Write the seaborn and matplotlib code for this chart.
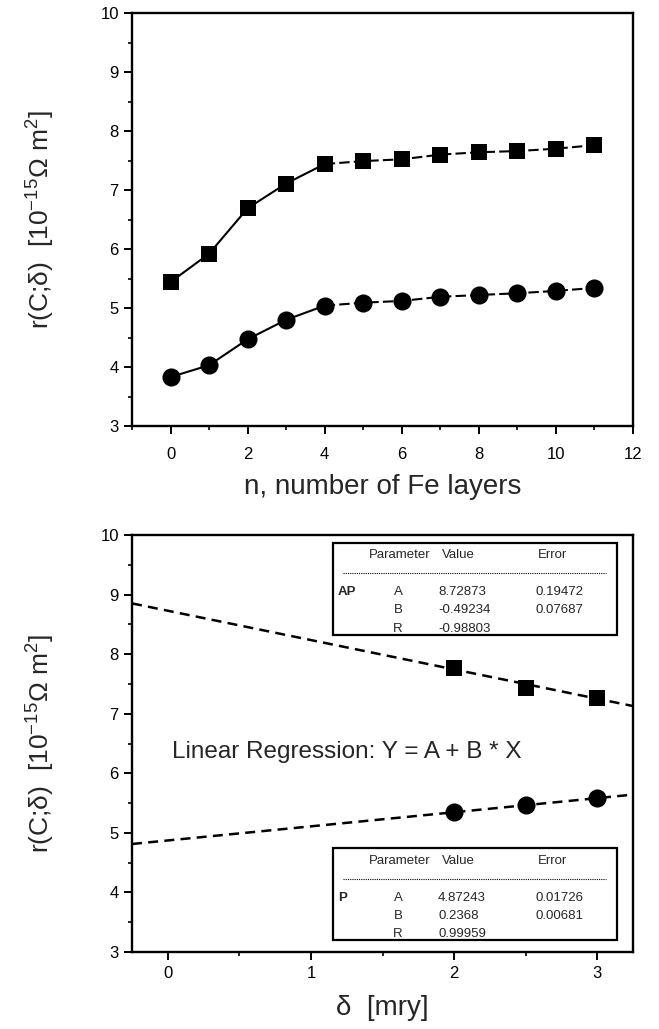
import numpy as np
import pandas as pd
import matplotlib
matplotlib.use("Agg")
import matplotlib.pyplot as plt
from matplotlib.patches import Rectangle
from matplotlib.ticker import MultipleLocator
import seaborn as sns

# ---- data -------------------------------------------------------------
n_layers = [0, 1, 2, 3, 4, 5, 6, 7, 8, 9, 10, 11]
r_ap_layers = [5.44, 5.92, 6.69, 7.11, 7.44, 7.49, 7.52, 7.60, 7.64, 7.66, 7.70, 7.76]
r_p_layers = [3.83, 4.03, 4.47, 4.80, 5.04, 5.09, 5.12, 5.19, 5.22, 5.25, 5.29, 5.34]

delta_mry = [2.0, 2.5, 3.0]
r_ap_delta = [7.76, 7.44, 7.27]
r_p_delta = [5.35, 5.47, 5.58]

fit_params = ["A", "B", "R"]
ap_fit_values = [8.72873, -0.49234, -0.98803]
ap_fit_errors = [0.19472, 0.07687, None]
p_fit_values = [4.87243, 0.2368, 0.99959]
p_fit_errors = [0.01726, 0.00681, None]

ylabel_text = r"r(C;δ)  [10$^{\mathregular{-15}}$Ω m$^{\mathregular{2}}$]"

# ---- style ------------------------------------------------------------
sns.set_style("ticks")
plt.rcParams["font.family"] = ["Liberation Sans", "DejaVu Sans"]
plt.rcParams["mathtext.fontset"] = "custom"
plt.rcParams["mathtext.rm"] = "Liberation Sans"
plt.rcParams["axes.linewidth"] = 1.7
plt.rcParams["axes.edgecolor"] = "black"
plt.rcParams["xtick.color"] = "black"
plt.rcParams["ytick.color"] = "black"

fig = plt.figure(figsize=(6.59, 10.29), dpi=100)
W, H = 659, 1029


def px_axes(left, right, top, bottom):
    return fig.add_axes([left / W, 1 - bottom / H, (right - left) / W, (bottom - top) / H])


ax1 = px_axes(132, 633, 13, 426)
ax2 = px_axes(132, 633, 535, 952)


def style_axes(ax, xpad):
    for s in ax.spines.values():
        s.set_visible(True)
        s.set_linewidth(1.7)
    ax.tick_params(which="major", direction="out", length=6, width=1.4,
                   labelsize=12, top=False, right=False)
    ax.tick_params(which="minor", direction="out", length=3, width=1.2,
                   top=False, right=False)
    ax.tick_params(axis="x", which="major", pad=xpad)
    ax.yaxis.set_major_locator(MultipleLocator(1))
    ax.yaxis.set_minor_locator(MultipleLocator(0.5))
    ax.set_ylim(3, 10)


# ---- top panel: resistance vs number of Fe layers ---------------------
top = pd.DataFrame({"n": n_layers, "ap": r_ap_layers, "p": r_p_layers})
head = top[top["n"] <= 4]
tail = top[top["n"] >= 4]
for col in ["ap", "p"]:
    sns.lineplot(data=head, x="n", y=col, ax=ax1, color="black", lw=1.5, sort=False)
    sns.lineplot(data=tail, x="n", y=col, ax=ax1, color="black", lw=1.5, sort=False,
                 linestyle=(0, (5, 2)))
sns.scatterplot(data=top, x="n", y="ap", ax=ax1, marker="s", s=140,
                color="black", linewidth=0, zorder=5)
sns.scatterplot(data=top, x="n", y="p", ax=ax1, marker="o", s=170,
                color="black", linewidth=0, zorder=5)
style_axes(ax1, xpad=9)
ax1.set_xlim(-1, 12)
ax1.xaxis.set_major_locator(MultipleLocator(2))
ax1.xaxis.set_minor_locator(MultipleLocator(1))
ax1.set_xlabel("n, number of Fe layers", fontsize=20, labelpad=9)
ax1.set_ylabel(ylabel_text, fontsize=19, labelpad=32)

# ---- bottom panel: resistance vs delta with linear fits ---------------
style_axes(ax2, xpad=4)
ax2.set_xlim(-0.25, 3.25)
ax2.xaxis.set_major_locator(MultipleLocator(1))
ax2.xaxis.set_minor_locator(MultipleLocator(0.5))

x_span = np.array(ax2.get_xlim())
for vals in (ap_fit_values, p_fit_values):
    fit = pd.DataFrame({"x": x_span, "y": vals[0] + vals[1] * x_span})
    sns.lineplot(data=fit, x="x", y="y", ax=ax2, color="black", lw=1.8,
                 linestyle=(0, (4, 2.5)), sort=False)

bottom = pd.DataFrame({"d": delta_mry, "ap": r_ap_delta, "p": r_p_delta})
sns.scatterplot(data=bottom, x="d", y="ap", ax=ax2, marker="s", s=140,
                color="black", linewidth=0, zorder=5)
sns.scatterplot(data=bottom, x="d", y="p", ax=ax2, marker="o", s=170,
                color="black", linewidth=0, zorder=5)
ax2.set_xlim(-0.25, 3.25)
ax2.set_xlabel("δ  [mry]", fontsize=20, labelpad=10)
ax2.set_ylabel(ylabel_text, fontsize=19, labelpad=32)

ax2.text(0.03, 6.35, "Linear Regression: Y = A + B * X", fontsize=17.5,
         ha="left", va="center")


def fit_table(ax, name, values, errors, box_top):
    """Parameter box of a linear fit, placed in axes fractions."""
    t = ax.transAxes
    h = 0.221
    ax.add_patch(Rectangle((0.402, box_top - h), 0.566, h, transform=t,
                           fill=True, facecolor="white", edgecolor="black",
                           lw=1.6, zorder=6))
    fs = 9.5
    kw = dict(transform=t, fontsize=fs, va="center", zorder=7)
    ax.text(0.473, box_top - 0.030, "Parameter", ha="left", **kw)
    ax.text(0.619, box_top - 0.030, "Value", ha="left", **kw)
    ax.text(0.810, box_top - 0.030, "Error", ha="left", **kw)
    ax.plot([0.421, 0.946], [box_top - 0.073] * 2, transform=t, color="black",
            lw=0.8, linestyle=(0, (1, 1)), zorder=7)
    ax.text(0.411, box_top - 0.119, name, ha="left", fontweight="bold", **kw)
    for i, (p, v, e) in enumerate(zip(fit_params, values, errors)):
        y = box_top - 0.119 - 0.044 * i
        ax.text(0.531, y, p, ha="center", **kw)
        ax.text(0.611, y, str(v), ha="left", **kw)
        if e is not None:
            ax.text(0.806, y, str(e), ha="left", **kw)


fit_table(ax2, "AP", ap_fit_values, ap_fit_errors, 0.982)
fit_table(ax2, "P", p_fit_values, p_fit_errors, 0.249)

fig.savefig("out.png", dpi=100)
